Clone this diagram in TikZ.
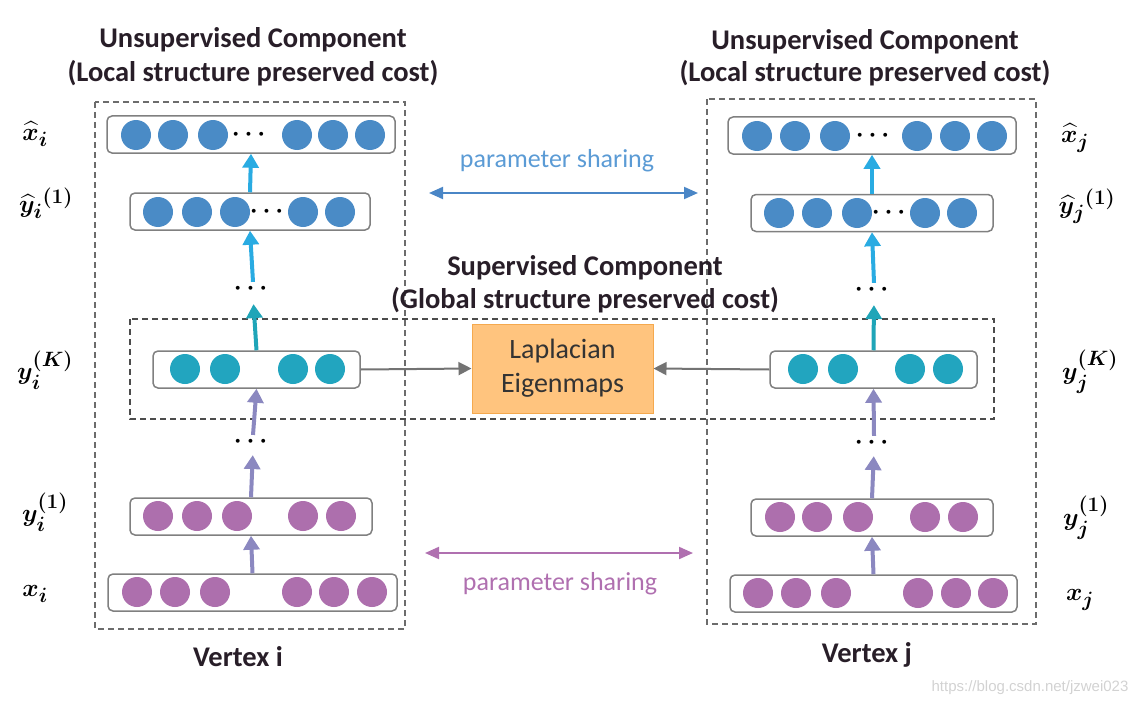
\documentclass[tikz,border=0pt]{standalone}
\usepackage{amsmath}
\usepackage{bm}
\usepackage{fontspec}
\setmainfont{Carlito}
\newfontfamily\wmfont{Liberation Sans}
\usetikzlibrary{arrows.meta}
\definecolor{unitblue}{RGB}{74,139,198}
\definecolor{unitteal}{RGB}{34,165,191}
\definecolor{unitpurple}{RGB}{173,111,173}
\definecolor{upblue}{RGB}{41,171,226}
\definecolor{uppurple}{RGB}{139,136,192}
\definecolor{upteal}{RGB}{31,165,184}
\definecolor{rowgray}{RGB}{128,128,128}
\definecolor{shareblue}{RGB}{74,134,198}
\definecolor{sharetext}{RGB}{91,155,213}
\definecolor{sharepurple}{RGB}{176,112,176}
\definecolor{lapfill}{RGB}{255,196,126}
\definecolor{lapdraw}{RGB}{245,169,78}
\definecolor{titletext}{RGB}{40,30,40}
\tikzset{
  rowbox/.style={draw=rowgray,line width=1.5pt,rounded corners=5pt,fill=white,
    minimum height=37pt,inner sep=0pt},
  unitdot/.style={circle,fill=#1,minimum size=30pt,inner sep=0pt},
  updots/.style={inner sep=1pt,font=\fontsize{30}{30}\selectfont},
  uparrow/.style={draw=#1,line width=4pt,-{Triangle[width=16pt,length=14pt]}},
  toeigen/.style={draw=gray!90!black,line width=2pt,-{Triangle[width=13pt,length=13pt]}},
  share/.style={draw=#1,line width=2pt,{Triangle[width=12pt,length=14pt]}-{Triangle[width=12pt,length=14pt]}},
  titletxt/.style={font=\fontsize{28.5}{28.5}\bfseries\selectfont,text=titletext},
  layerlabel/.style={font=\fontsize{31}{31}\selectfont},
  dashframe/.style={line width=1.2pt,draw=gray!85!black,dash pattern=on 6pt off 4pt},
}
\begin{document}
\begin{tikzpicture}[x=1pt,y=-1pt]
\useasboundingbox (0,0) rectangle (1142,706);
% dashed frames
\draw[dashframe] (95,102) rectangle (405,629);
\draw[dashframe] (707,99) rectangle (1036,624);
\draw[dashframe,draw=black!70] (130,319) rectangle (994,419);
% titles
\node[titletxt] (ti1) at (253,40) {Unsupervised Component};
\node[titletxt] (ti2) at (253,73) {(Local structure preserved cost)};
\node[titletxt] (tj1) at (865,42) {Unsupervised Component};
\node[titletxt] (tj2) at (865,73) {(Local structure preserved cost)};
\node[titletxt] (ts1) at (585,268) {Supervised Component};
\node[titletxt] (ts2) at (585,300) {(Global structure preserved cost)};
\node[titletxt] (vi) at (238,657) {Vertex i};
\node[titletxt] (vj) at (867,655) {Vertex j};
% vertex i
\node[rowbox,minimum width=288pt] (xhi) at (251,134.5) {};
\node[rowbox,minimum width=240pt] (yhi) at (250,211.5) {};
\node[rowbox,minimum width=207pt] (yKi) at (256.5,369.5) {};
\node[rowbox,minimum width=242pt] (y1i) at (251,516.5) {};
\node[rowbox,minimum width=289pt] (xi) at (252.5,592.5) {};
\foreach \x [count=\k] in {136,173,213,297,333,370}
  \node[unitdot=unitblue] (xhi-\k) at (\x,135) {};
\node[updots] (xhi-d) at (251,135) {$\bm{\cdots}$};
\foreach \x [count=\k] in {158,197,235,303,340}
  \node[unitdot=unitblue] (yhi-\k) at (\x,212) {};
\node[updots] (yhi-d) at (269,212) {$\bm{\cdots}$};
\foreach \x [count=\k] in {185,225,293,330}
  \node[unitdot=unitteal] (yKi-\k) at (\x,369) {};
\foreach \x [count=\k] in {158,197,237,303,341}
  \node[unitdot=unitpurple] (y1i-\k) at (\x,516) {};
\foreach \x [count=\k] in {137,175,215,297,334,372}
  \node[unitdot=unitpurple] (xi-\k) at (\x,592) {};
\node[updots] (dui) at (253,289) {$\bm{\cdots}$};
\node[updots] (dli) at (253,442) {$\bm{\cdots}$};
% vertex j
\node[rowbox,minimum width=288pt] (xhj) at (872,135.5) {};
\node[rowbox,minimum width=242pt] (yhj) at (872,213) {};
\node[rowbox,minimum width=207pt] (yKj) at (873.5,369.5) {};
\node[rowbox,minimum width=242pt] (y1j) at (872,517.5) {};
\node[rowbox,minimum width=287pt] (xj) at (873.5,593.5) {};
\foreach \x [count=\k] in {757,795,835,917,955,992}
  \node[unitdot=unitblue] (xhj-\k) at (\x,136) {};
\node[updots] (xhj-d) at (875,136) {$\bm{\cdots}$};
\foreach \x [count=\k] in {779,817,857,925,962}
  \node[unitdot=unitblue] (yhj-\k) at (\x,213) {};
\node[updots] (yhj-d) at (891,213) {$\bm{\cdots}$};
\foreach \x [count=\k] in {803,843,910,948}
  \node[unitdot=unitteal] (yKj-\k) at (\x,369) {};
\foreach \x [count=\k] in {780,817,858,925,963}
  \node[unitdot=unitpurple] (y1j-\k) at (\x,517) {};
\foreach \x [count=\k] in {758,796,836,918,956,993}
  \node[unitdot=unitpurple] (xj-\k) at (\x,593) {};
\node[updots] (duj) at (874,290) {$\bm{\cdots}$};
\node[updots] (dlj) at (874,443) {$\bm{\cdots}$};
% upward arrows
\foreach \s in {i,j} {
  \draw[uparrow=uppurple] (x\s.north) -- (y1\s.south);
  \draw[uparrow=uppurple,shorten >=6pt] (y1\s.north) -- (dl\s.south);
  \draw[uparrow=uppurple] (dl\s.north) -- (yK\s.south);
  \draw[uparrow=upteal,shorten >=8pt] (yK\s.north) -- (du\s.south);
  \draw[uparrow=upblue] (du\s.north) -- (yh\s.south);
  \draw[uparrow=upblue] (yh\s.north) -- (xh\s.south);
}
% laplacian eigenmaps
\node[draw=lapdraw,fill=lapfill,line width=1pt,minimum width=181pt,minimum height=89pt,
  align=center,text=black!80,font=\fontsize{28}{34}\selectfont] (lap) at (562.5,368.5)
  {Laplacian\\Eigenmaps};
\draw[toeigen] (yKi.east) -- (lap.west);
\draw[toeigen] (yKj.west) -- (lap.east);
% parameter sharing
\coordinate (pbl) at (429,193);
\coordinate (pbr) at (698,193);
\coordinate (ppl) at (425,553);
\coordinate (ppr) at (693,553);
\draw[share=shareblue] (pbl) -- (pbr);
\draw[share=sharepurple] (ppl) -- (ppr);
\node[text=sharetext,font=\fontsize{26}{26}\selectfont] (psb) at (557,161) {parameter sharing};
\node[text=sharepurple,font=\fontsize{26}{26}\selectfont] (psp) at (560,584) {parameter sharing};
% layer labels
\node[layerlabel] (lxhi) at (35,134) {$\widehat{\bm{x}}_{\bm{i}}$};
\node[layerlabel] (lyhi) at (46,203) {$\widehat{\bm{y}}_{\bm{i}}{}^{\bm{(1)}}$};
\node[layerlabel] (lyKi) at (45,370) {$\bm{y}_{\bm{i}}^{\bm{(K)}}$};
\node[layerlabel] (ly1i) at (45,512) {$\bm{y}_{\bm{i}}^{\bm{(1)}}$};
\node[layerlabel] (lxi) at (35,594) {$\bm{x}_{\bm{i}}$};
\node[layerlabel] (lxhj) at (1075,138) {$\widehat{\bm{x}}_{\bm{j}}$};
\node[layerlabel] (lyhj) at (1087,206) {$\widehat{\bm{y}}_{\bm{j}}{}^{\bm{(1)}}$};
\node[layerlabel] (lyKj) at (1090,372) {$\bm{y}_{\bm{j}}^{\bm{(K)}}$};
\node[layerlabel] (ly1j) at (1086,518) {$\bm{y}_{\bm{j}}^{\bm{(1)}}$};
\node[layerlabel] (lxj) at (1080,600) {$\bm{x}_{\bm{j}}$};
% watermark
\node[text=gray!35,font=\wmfont\fontsize{15}{15}\selectfont] (wm) at (1030,688) {https://blog.csdn.net/jzwei023};
\end{tikzpicture}
\end{document}
